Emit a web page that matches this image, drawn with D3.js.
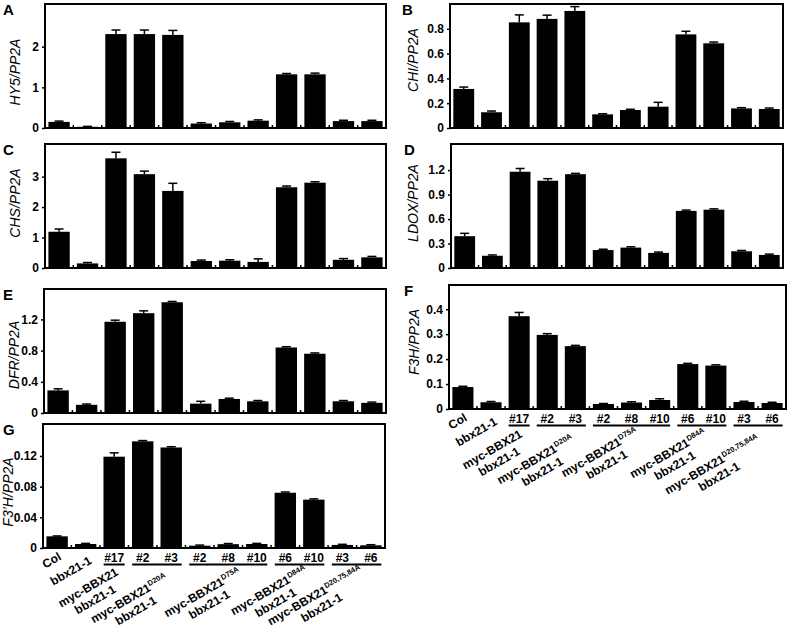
<!DOCTYPE html>
<html><head><meta charset="utf-8">
<script src="https://cdn.jsdelivr.net/npm/d3@7"></script>
<style>
body{margin:0;background:#fff}
text{font-family:"Liberation Sans",Arial,sans-serif}
</style>
</head><body>
<svg id="chart" width="793" height="640"></svg>
<script>
// ---- data ----
const categories = ["Col","bbx21-1","#17","#2","#3","#2","#8","#10","#6","#10","#3","#6"];
const groups = [
  {name:"myc-BBX21", sup:"", first:2, last:2},
  {name:"myc-BBX21", sup:"D20A", first:3, last:4},
  {name:"myc-BBX21", sup:"D75A", first:5, last:7},
  {name:"myc-BBX21", sup:"D84A", first:8, last:9},
  {name:"myc-BBX21", sup:"D20,75,84A", first:10, last:11}
];
const groupLine2 = "bbx21-1";

const hy5    = [0.15, 0.03, 2.31, 2.31, 2.29, 0.11, 0.14, 0.18, 1.32, 1.32, 0.17, 0.17];
const hy5Err = [0.02, 0.01, 0.10, 0.10, 0.11, 0.02, 0.02, 0.02, 0.02, 0.03, 0.02, 0.02];
const hy5Ticks = [0, 1, 2];
const hy5TickLabels = ["0", "1", "2"];

const chi    = [0.315, 0.127, 0.852, 0.880, 0.944, 0.110, 0.145, 0.172, 0.755, 0.683, 0.158, 0.153];
const chiErr = [0.015, 0.010, 0.060, 0.030, 0.035, 0.005, 0.006, 0.035, 0.025, 0.010, 0.006, 0.008];
const chiTicks = [0, 0.2, 0.4, 0.6, 0.8];
const chiTickLabels = ["0", "0.2", "0.4", "0.6", "0.8"];

const chs    = [1.19, 0.15, 3.60, 3.08, 2.53, 0.23, 0.24, 0.20, 2.65, 2.80, 0.27, 0.35];
const chsErr = [0.09, 0.03, 0.20, 0.10, 0.25, 0.03, 0.03, 0.10, 0.04, 0.03, 0.04, 0.03];
const chsTicks = [0, 1, 2, 3];
const chsTickLabels = ["0", "1", "2", "3"];

const ldox    = [0.39, 0.15, 1.18, 1.07, 1.15, 0.22, 0.25, 0.185, 0.70, 0.715, 0.205, 0.16];
const ldoxErr = [0.035, 0.01, 0.04, 0.025, 0.01, 0.01, 0.01, 0.01, 0.01, 0.01, 0.01, 0.01];
const ldoxTicks = [0, 0.3, 0.6, 0.9, 1.2];
const ldoxTickLabels = ["0", "0.3", "0.6", "0.9", "1.2"];

const dfr    = [0.29, 0.105, 1.17, 1.28, 1.42, 0.12, 0.18, 0.15, 0.84, 0.76, 0.15, 0.13];
const dfrErr = [0.02, 0.01, 0.02, 0.03, 0.01, 0.03, 0.01, 0.01, 0.01, 0.01, 0.01, 0.01];
const dfrTicks = [0, 0.4, 0.8, 1.2];
const dfrTickLabels = ["0", "0.4", "0.8", "1.2"];

const f3h    = [0.088, 0.027, 0.372, 0.297, 0.252, 0.020, 0.026, 0.036, 0.180, 0.174, 0.028, 0.024];
const f3hErr = [0.003, 0.003, 0.015, 0.005, 0.003, 0.002, 0.003, 0.005, 0.003, 0.003, 0.003, 0.003];
const f3hTicks = [0, 0.1, 0.2, 0.3, 0.4];
const f3hTickLabels = ["0", "0.1", "0.2", "0.3", "0.4"];

const f3ph    = [0.0152, 0.0052, 0.119, 0.139, 0.131, 0.0030, 0.0050, 0.0052, 0.072, 0.063, 0.0040, 0.0035];
const f3phErr = [0.0005, 0.0008, 0.005, 0.001, 0.001, 0.0008, 0.0008, 0.0008, 0.001, 0.001, 0.0008, 0.0008];
const f3phTicks = [0, 0.04, 0.08, 0.12];
const f3phTickLabels = ["0", "0.04", "0.08", "0.12"];

// ---- layout ----
const panels = [
  {letter:"A", title:"HY5/PP2A", v:hy5,  e:hy5Err,  ticks:hy5Ticks,  labels:hy5TickLabels,  max:3.05,  l:45,  r:386, t:4,   b:128, lx:3,   tx:15,  ty:72},
  {letter:"B", title:"CHI/PP2A", v:chi,  e:chiErr,  ticks:chiTicks,  labels:chiTickLabels,  max:1.0,   l:450, r:783, t:4,   b:128, lx:402, tx:413, ty:60},
  {letter:"C", title:"CHS/PP2A", v:chs,  e:chsErr,  ticks:chsTicks,  labels:chsTickLabels,  max:4.07,  l:45,  r:386, t:144, b:268, lx:3,   tx:15,  ty:203},
  {letter:"D", title:"LDOX/PP2A",v:ldox, e:ldoxErr, ticks:ldoxTicks, labels:ldoxTickLabels, max:1.52,  l:451, r:783, t:144, b:268, lx:404, tx:413, ty:203},
  {letter:"E", title:"DFR/PP2A", v:dfr,  e:dfrErr,  ticks:dfrTicks,  labels:dfrTickLabels,  max:1.59,  l:44,  r:386, t:289, b:413, lx:3,   tx:14,  ty:355},
  {letter:"F", title:"F3H/PP2A", v:f3h,  e:f3hErr,  ticks:f3hTicks,  labels:f3hTickLabels,  max:0.497, l:449, r:786, t:285, b:409, lx:404, tx:414, ty:342,
    offs:[[-25,44],[-24,54],[-30,47],[-32,48],[-44,59]]},
  {letter:"G", title:"F3\u2019H/PP2A", v:f3ph, e:f3phErr, ticks:f3phTicks, labels:f3phTickLabels, max:0.1616, l:43, r:385, t:424, b:548, lx:3, tx:8, ty:492,
    offs:[[-24,43],[-26,54],[-24,48],[-29,46],[-40,51]]}
];
const colOffs = [[5,11],[7,15]];

const svg = d3.select("#chart");

panels.forEach(p => {
  const g = svg.append("g");
  const x = d3.scaleBand().domain(d3.range(categories.length)).range([p.l, p.r])
    .paddingInner(0.25).paddingOuter(0.12);
  const y = d3.scaleLinear().domain([0, p.max]).range([p.b, p.t]);
  const bw = x.bandwidth();

  // bars
  g.selectAll("rect.bar").data(p.v).join("rect").attr("class","bar")
    .attr("x",(d,i)=>x(i)).attr("y",d=>y(d))
    .attr("width",bw).attr("height",d=>y(0)-y(d)).attr("fill","#000");

  // error bars
  const eb = g.selectAll("g.err").data(p.v.map((d,i)=>({v:d,e:p.e[i],i}))).join("g").attr("class","err");
  eb.append("line").attr("x1",d=>x(d.i)+bw/2).attr("x2",d=>x(d.i)+bw/2)
    .attr("y1",d=>y(d.v)).attr("y2",d=>y(d.v+d.e)).attr("stroke","#000").attr("stroke-width",1.5);
  eb.append("line").attr("x1",d=>x(d.i)+bw/2-4.5).attr("x2",d=>x(d.i)+bw/2+4.5)
    .attr("y1",d=>y(d.v+d.e)).attr("y2",d=>y(d.v+d.e)).attr("stroke","#000").attr("stroke-width",1.5);

  // bottom minor ticks between bars
  g.selectAll("line.bt").data(d3.range(1,categories.length)).join("line").attr("class","bt")
    .attr("x1",i=>x(i)-x.step()*x.paddingInner()/2).attr("x2",i=>x(i)-x.step()*x.paddingInner()/2)
    .attr("y1",p.b).attr("y2",p.b-3).attr("stroke","#000").attr("stroke-width",1.5);

  // frame
  g.append("rect").attr("x",p.l).attr("y",p.t).attr("width",p.r-p.l).attr("height",p.b-p.t)
    .attr("fill","none").attr("stroke","#000").attr("stroke-width",2);

  // y axis
  const ax = g.append("g").attr("transform",`translate(${p.l},0)`)
    .call(d3.axisLeft(y).tickValues(p.ticks).tickFormat((d,i)=>p.labels[i]).tickSize(3).tickPadding(3));
  ax.select(".domain").remove();
  ax.selectAll("line").attr("stroke","#000").attr("stroke-width",1.5);
  ax.selectAll("text").attr("font-size",12).attr("font-weight","bold")
    .attr("font-family","'Liberation Sans',Arial,sans-serif").attr("fill","#000");

  // panel letter
  g.append("text").attr("x",p.lx).attr("y",p.t+11).attr("font-size",15).attr("font-weight","bold").text(p.letter);

  // y title
  g.append("text").attr("transform",`translate(${p.tx},${p.ty}) rotate(-90)`)
    .attr("text-anchor","middle").attr("dy","0.35em").attr("font-size",14)
    .attr("font-style","italic").text(p.title);

  if (p.offs) {
    const cx = i => x(i) + bw/2;
    // Col and bbx21-1 rotated
    [0,1].forEach(i => {
      g.append("text").attr("transform",`translate(${cx(i)+colOffs[i][0]},${p.b+colOffs[i][1]}) rotate(-30)`)
        .attr("text-anchor","end").attr("font-size",12).attr("font-weight","bold").text(categories[i]);
    });
    // line numbers
    d3.range(2,categories.length).forEach(i => {
      g.append("text").attr("x",cx(i)).attr("y",p.b+14).attr("text-anchor","middle")
        .attr("font-size",12).attr("font-weight","bold").text(categories[i]);
    });
    // group lines and labels
    groups.forEach((gr,k) => {
      g.append("line").attr("x1",cx(gr.first)-10.5).attr("x2",cx(gr.last)+10.5)
        .attr("y1",p.b+16.5).attr("y2",p.b+16.5).attr("stroke","#000").attr("stroke-width",2);
      const gc = (cx(gr.first)+cx(gr.last))/2;
      const [dx,dy] = p.offs[k];
      const t = g.append("text").attr("transform",`translate(${gc+dx},${p.b+dy}) rotate(-30)`)
        .attr("text-anchor","middle").attr("font-size",12).attr("font-weight","bold");
      const l1 = t.append("tspan").attr("x",0).attr("y",0);
      l1.append("tspan").text(gr.name);
      if (gr.sup) l1.append("tspan").attr("font-size",7.5).attr("dy",-4.5).text(gr.sup);
      t.append("tspan").attr("x",0).attr("y",14).text(groupLine2);
    });
  }
});
</script>
</body></html>
